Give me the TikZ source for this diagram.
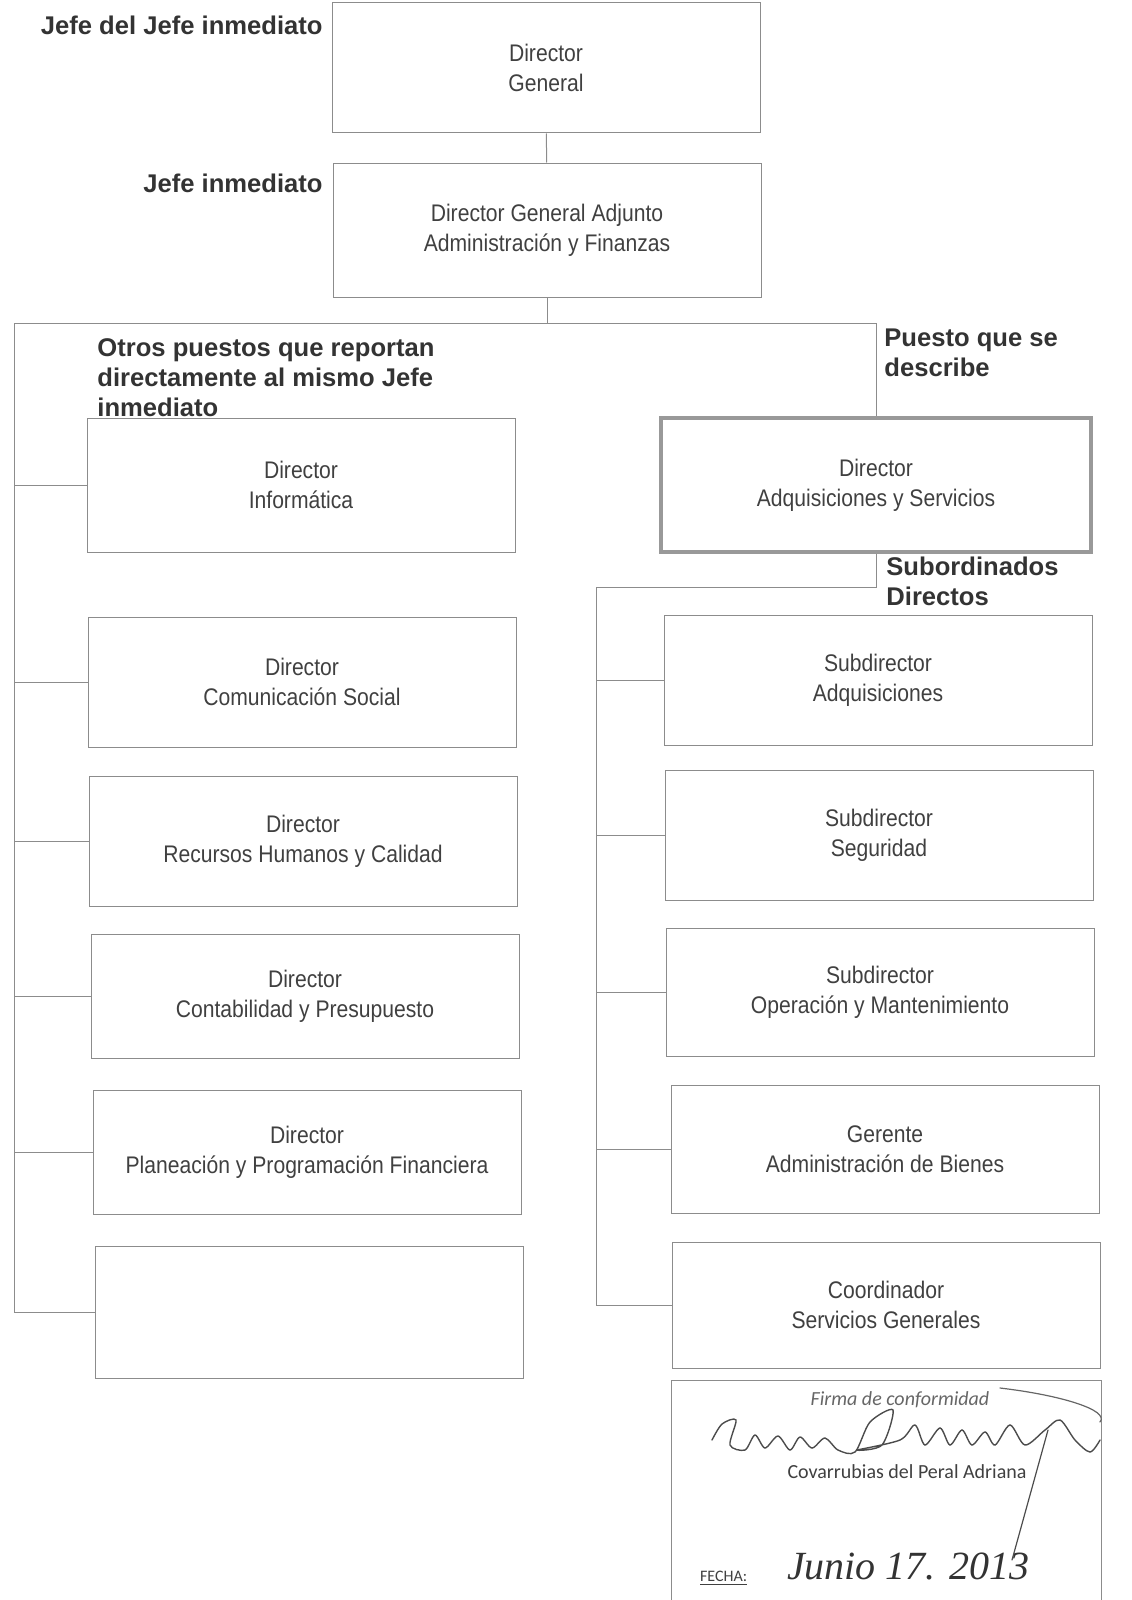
\documentclass[tikz,border=0pt]{standalone}
\usepackage{fontspec}
\setmainfont{Liberation Sans}
\newfontfamily\angosta[FakeStretch=0.88]{Liberation Sans}
\newfontfamily\firmafont{Carlito}
\newfontfamily\manofont{Liberation Serif}
\usetikzlibrary{calc}

\begin{document}
\begin{tikzpicture}[x=0.5pt, y=-0.5pt,
    puesto/.style={draw=black!45, line width=0.5pt, align=center, inner sep=0pt,
        text=black!75, minimum width=214pt, minimum height=65pt,
        font=\angosta\fontsize{12}{15}\selectfont},
    rotulo/.style={text=black!80, inner sep=0pt, align=left,
        font=\bfseries\fontsize{12.8}{15}\selectfont},
    linea/.style={draw=black!45, line width=0.5pt}]
        \useasboundingbox (0,0) rectangle (1131,1600);

        \node[rotulo, anchor=east] (jj) at (323,25) {Jefe del Jefe inmediato};
        \node[rotulo, anchor=east] (ji) at (323,183) {Jefe inmediato};
        \node[rotulo, anchor=north west] (otros) at (97,338) {Otros puestos que reportan\\directamente al mismo Jefe\\inmediato};
        \node[rotulo, anchor=north west] (desc) at (884,328) {Puesto que se\\describe};
        \node[rotulo, anchor=north west] (subs) at (886,557) {Subordinados\\Directos};

        \node[puesto] (dg) at (546,68) {Director\\General};
        \node[puesto, minimum height=67pt] (dga) at (547,230) {Director General Adjunto\\Administración y Finanzas};
        \node[puesto, draw=black!40, line width=1.8pt, minimum width=215pt, minimum height=67pt] (adq) at (876,485) {Director\\Adquisiciones y Servicios};

        \node[puesto, minimum height=67pt] (inf) at (301,485) {Director\\Informática};
        \node[puesto] (com) at (302,682) {Director\\Comunicación Social};
        \node[puesto] (rrhh) at (303,841) {Director\\Recursos Humanos y Calidad};
        \node[puesto, minimum height=62pt] (cont) at (305,996) {Director\\Contabilidad y Presupuesto};
        \node[puesto, minimum height=62pt] (plan) at (307,1152) {Director\\Planeación y Programación Financiera};
        \node[puesto, minimum height=66pt] (vacio) at (309,1312) {};

        \node[puesto] (sadq) at (878,680) {Subdirector\\Adquisiciones};
        \node[puesto] (sseg) at (879,835) {Subdirector\\Seguridad};
        \node[puesto, minimum height=64pt] (sop) at (880,992) {Subdirector\\Operación y Mantenimiento};
        \node[puesto, minimum height=64pt] (ger) at (885,1149) {Gerente\\Administración de Bienes};
        \node[puesto, minimum height=63pt] (coord) at (886,1305) {Coordinador\\Servicios Generales};

        \coordinate (ramal) at (dga.south |- 0,323);
        \coordinate (izq) at (14,323);
        \coordinate (der) at (596,587);

        \draw[linea] (dg) -- (dga);
        \draw[linea] (dga.south) -- (ramal) -| (adq.north);
        \draw[linea] (ramal) -- (izq) |- (vacio.west);
        \foreach \n in {inf,com,rrhh,cont,plan}
            \draw[linea] (izq |- \n.west) -- (\n.west);
        \draw[linea] (adq.south) |- (der) |- (coord.west);
        \foreach \n in {sadq,sseg,sop,ger}
            \draw[linea] (der |- \n.west) -- (\n.west);

        % firma
        \draw[linea] (671,1600) -- (671,1380) -- (1101,1380) -- (1101,1600);
        \node[font=\firmafont\itshape\fontsize{10}{12}\selectfont, text=black!60] (firma) at (900,1400) {Firma de conformidad};
        \node[font=\firmafont\fontsize{10}{12}\selectfont, text=black!75] (nombre) at (907,1472) {Covarrubias del Peral Adriana};
        \node[font=\firmafont\fontsize{8}{10}\selectfont, text=black!75, anchor=west] (fecha) at (693,1578) {\underline{FECHA:}};
        \node[font=\manofont\itshape\fontsize{20}{24}\selectfont, text=black!80, anchor=west] (dia) at (780,1566) {Junio 17. 2013};
        \draw[black!70, line width=0.7pt, line cap=round] plot[smooth] coordinates {(712,1440) (722,1424) (736,1420) (730,1445) (745,1450) (755,1435) (765,1448) (778,1436) (790,1450) (800,1437) (812,1448) (825,1438) (838,1450) (855,1452) (870,1422) (893,1410) (882,1445) (857,1450) (900,1440) (915,1425) (925,1445) (940,1428) (950,1445) (962,1430) (972,1445) (985,1432) (995,1445) (1010,1425) (1025,1445) (1045,1430) (1060,1420) (1075,1440) (1090,1452) (1100,1440)};
        \draw[black!60, line width=0.6pt, line cap=round] (1000,1388) .. controls (1060,1395) and (1110,1410) .. (1100,1422);
        \draw[black!70, line width=0.6pt, line cap=round] (1048,1430) -- (1012,1560);
    \end{tikzpicture}
\end{document}
